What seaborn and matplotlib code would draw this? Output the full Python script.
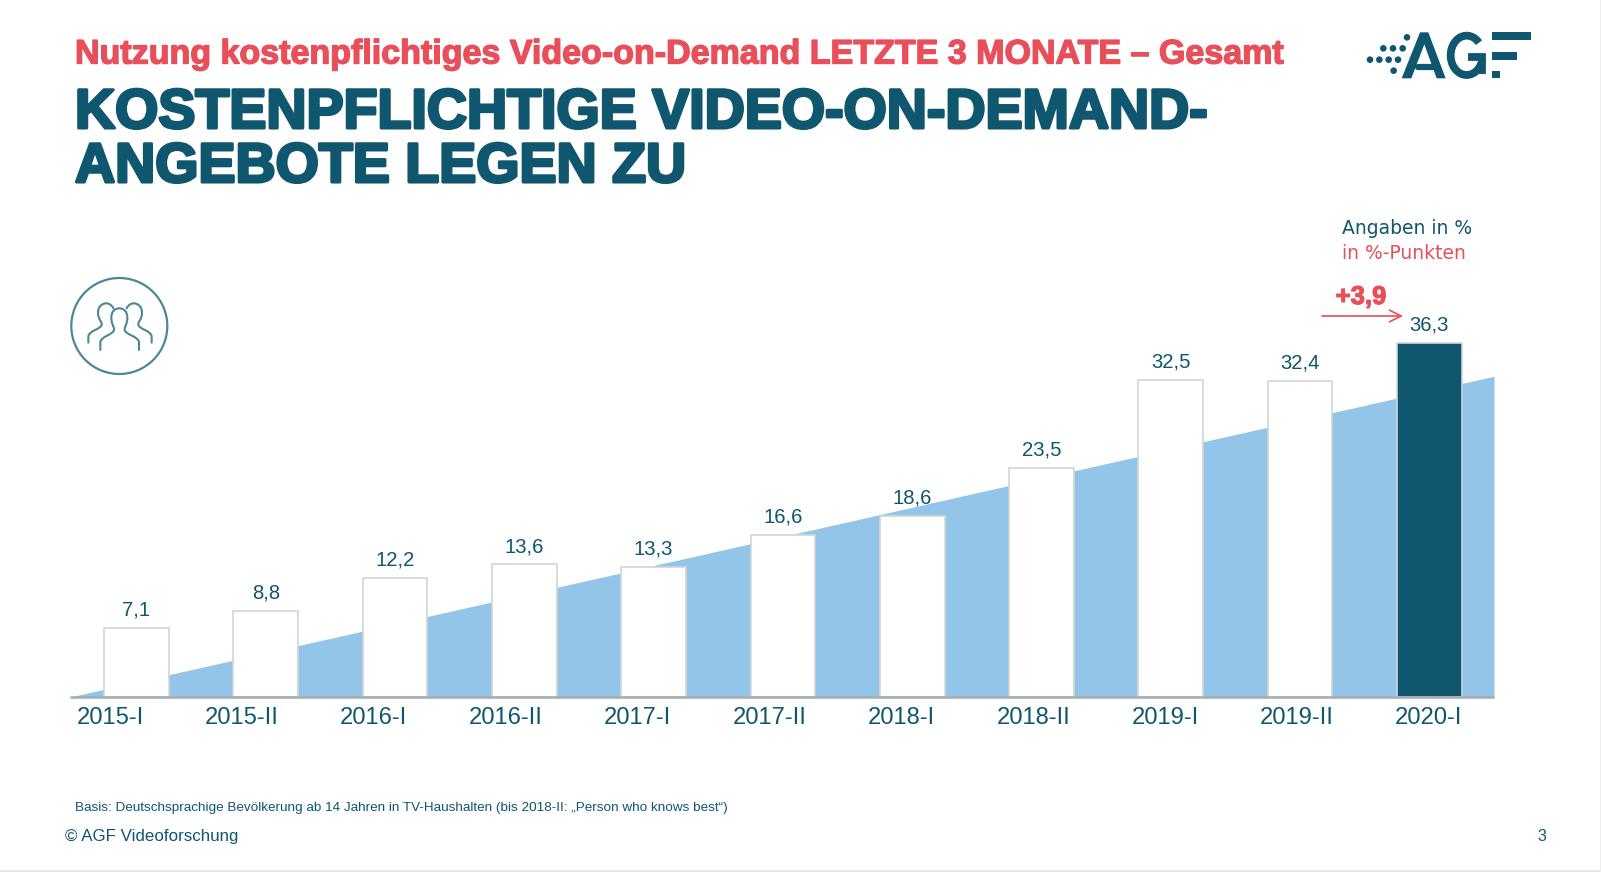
import numpy as np
import pandas as pd
import matplotlib
matplotlib.use("Agg")
import matplotlib.pyplot as plt
import matplotlib.patheffects as pe
import seaborn as sns
from matplotlib.path import Path
from matplotlib.patches import PathPatch, Circle, Rectangle, Polygon
from matplotlib.transforms import ScaledTranslation

periods = ["2015-I", "2015-II", "2016-I", "2016-II", "2017-I", "2017-II",
           "2018-I", "2018-II", "2019-I", "2019-II", "2020-I"]
percent = [7.1, 8.8, 12.2, 13.6, 13.3, 16.6, 18.6, 23.5, 32.5, 32.4, 36.3]
trend_x = [-0.514, 10.5]
trend_y = [0, 32.9]

NAVY = "#0f566f"
RED = "#e84f5a"
BLUE = "#92c5e8"
TEAL = "#4f8694"
W, H = 1601, 872

sns.set_theme(style="white")
plt.rcParams["font.family"] = ["Liberation Sans", "DejaVu Sans"]

df = pd.DataFrame({"period": periods, "percent": percent})

fig = plt.figure(figsize=(W / 100, H / 100), dpi=100, facecolor="white")
# overlay in pixel coords for headings, logo, icon
deco = fig.add_axes([0, 0, 1, 1])
deco.set_xlim(0, W)
deco.set_ylim(H, 0)
deco.axis("off")

ax = fig.add_axes([70 / W, (H - 697) / H, 1424 / W, 487.5 / H])
ax.patch.set_alpha(0)
ax.fill_between(trend_x, trend_y, 0, color=BLUE, lw=0, zorder=1)
sns.barplot(data=df, x="period", y="percent", color="white", edgecolor="#d2d4d6",
            linewidth=1.2, width=0.5, saturation=1, zorder=2, ax=ax)
ax.patches[-1].set_facecolor(NAVY)
ax.set_xlim(trend_x)
ax.set_ylim(0, 50)
ax.set_xlabel("")
ax.set_ylabel("")
ax.set_yticks([])
sns.despine(ax=ax, left=True)
ax.spines["bottom"].set_color("#a3adb2")
ax.spines["bottom"].set_linewidth(1.8)
ax.spines["bottom"].set_capstyle("butt")
ax.spines["bottom"].set_zorder(3)

value_labels = [str(v).replace(".", ",") for v in percent]
ax.bar_label(ax.containers[0], labels=value_labels, padding=6, fontsize=14.6, color=NAVY)

# tick labels sit a bit left of the bars in the original
ax.tick_params(axis="x", length=0, pad=7.2, labelsize=17.1, labelcolor=NAVY)
for i, lab in enumerate(ax.get_xticklabels()):
    dx = (-26.5 + 2.6 * i) / 100
    lab.set_transform(lab.get_transform() + ScaledTranslation(dx, 0, fig.dpi_scale_trans))

# headings, stroked because the original face is heavier than any bold here
def heavy(color, width):
    return [pe.withStroke(linewidth=width, foreground=color)]

deco.text(75, 55, "Nutzung kostenpflichtiges Video-on-Demand LETZTE 3 MONATE – Gesamt",
          color=RED, fontsize=24.5, fontweight="bold", va="center", path_effects=heavy(RED, 1.0))
deco.text(75, 114, "KOSTENPFLICHTIGE VIDEO-ON-DEMAND-", color=NAVY, fontsize=40,
          fontweight="bold", va="center", path_effects=heavy(NAVY, 2.2))
deco.text(75, 168, "ANGEBOTE LEGEN ZU", color=NAVY, fontsize=40,
          fontweight="bold", va="center", path_effects=heavy(NAVY, 2.2))

# unit notes and change arrow
deco.text(1342, 228, "Angaben in %", color=NAVY, fontsize=13.5, family="DejaVu Sans", va="center")
deco.text(1342, 253, "in %-Punkten", color=RED, fontsize=13.5, family="DejaVu Sans", va="center")
deco.text(1361, 297, "+3,9", color=RED, fontsize=18.5, fontweight="bold", ha="center", va="center",
          path_effects=heavy(RED, 0.8))
deco.annotate("", xy=(1403, 316), xytext=(1322, 316),
              arrowprops=dict(arrowstyle="->,head_length=0.7,head_width=0.35", color=RED, lw=1.2,
                              shrinkA=0, shrinkB=0))

# footer
deco.text(75, 808, "Basis: Deutschsprachige Bevölkerung ab 14 Jahren in TV-Haushalten (bis 2018-II: „Person who knows best“)",
          color=NAVY, fontsize=9.7, va="center")
deco.text(65, 836, "© AGF Videoforschung", color=NAVY, fontsize=12.2, va="center")
deco.text(1546, 836, "3", color=NAVY, fontsize=11.5, ha="right", va="center")
deco.add_patch(Rectangle((0, 869.5), W, 3, color="#e6e6e6", lw=0))
deco.add_patch(Rectangle((1599.5, 0), 2, H, color="#eeeeee", lw=0))

# people icon
def zoom_icon(pts):
    return [(40 + x / 3, 261 + y / 3) for x, y in pts]

deco.add_patch(Circle((119.3, 326), 48, fill=False, ec=TEAL, lw=1.6))
M, L, C = Path.MOVETO, Path.LINETO, Path.CURVE4
mid = [(181, 267), (181, 245), (181, 225), (222, 222), (222, 205), (222, 195), (214, 190), (214, 170),
       (214, 150), (226, 142), (238, 142), (250, 142), (262, 150), (262, 170), (262, 190), (254, 195),
       (254, 205), (254, 222), (297, 225), (297, 245), (297, 267)]
mid_codes = [M, L] + [C] * 18 + [L]
side = [(145, 245), (145, 228), (145, 208), (185, 205), (185, 190), (185, 180), (174, 175), (174, 155),
        (174, 135), (188, 127), (198, 127), (208, 127), (216, 133), (220, 142)]
side_codes = [M, L] + [C] * 12
for pts, codes in [(mid, mid_codes), (side, side_codes),
                   ([(480 - x, y) for x, y in side], side_codes)]:
    deco.add_patch(PathPatch(Path(zoom_icon(pts), codes), fill=False, ec=TEAL, lw=1.5, capstyle="round"))

# AGF logo
def zoom_logo(x, y):
    return 1250 + x / 3, y / 3

dots = [(471, 112), (400, 145), (429, 145), (458, 145), (360, 179), (388, 179),
        (416, 179), (444, 179), (431, 212)]
for x, y in dots:
    deco.add_patch(Circle(zoom_logo(x, y), 3.3, color=NAVY, lw=0))
a_shape = [(455, 235), (510, 97), (535, 97), (587, 235), (560, 235), (523, 133), (484, 235)]
deco.add_patch(Polygon([zoom_logo(*p) for p in a_shape], closed=True, color=NAVY, lw=0))
deco.plot(*zip(zoom_logo(505, 200), zoom_logo(560, 200)), color=NAVY, lw=4.5)
t = np.radians(np.linspace(-40, -350, 60))
gx = 1250 + (650 + 48 * np.cos(t)) / 3
gy = (166 + 59 * np.sin(t)) / 3
deco.plot(gx, gy, color=NAVY, lw=5.6, solid_capstyle="butt")
deco.plot(*zip(zoom_logo(655, 170), zoom_logo(695, 170), zoom_logo(695, 222)), color=NAVY, lw=5.6,
          solid_joinstyle="miter", solid_capstyle="butt")
for x0, y0, x1, y1 in [(725, 97, 843, 120), (725, 157, 800, 180), (725, 212, 750, 235)]:
    px, py = zoom_logo(x0, y0)
    qx, qy = zoom_logo(x1, y1)
    deco.add_patch(Rectangle((px, py), qx - px, qy - py, color=NAVY, lw=0))

fig.savefig("out.png", dpi=100)
